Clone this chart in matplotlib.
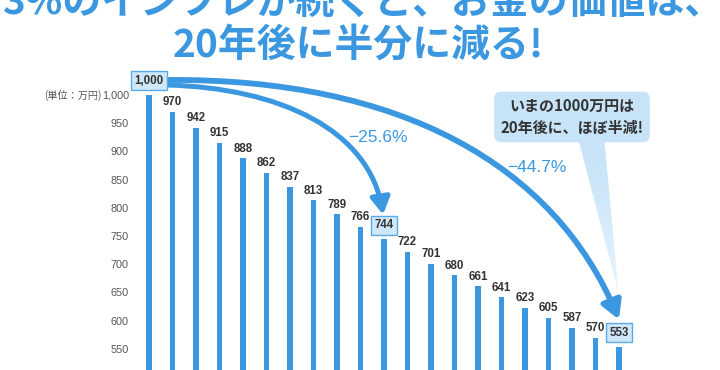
import matplotlib
matplotlib.use("Agg")
import matplotlib.pyplot as plt
import matplotlib.colors as mcolors
from matplotlib.patches import FancyArrowPatch, Polygon
from matplotlib.path import Path
import numpy as np

plt.rcParams['font.family'] = ['Liberation Sans', 'Noto Sans CJK JP']

# data
years = list(range(21))
values = [1000, 970, 942, 915, 888, 862, 837, 813, 789, 766, 744,
          722, 701, 680, 661, 641, 623, 605, 587, 570, 553]
highlight = [0, 10, 20]
y_ticks = list(range(550, 1001, 50))
y_tick_labels = ["1,000" if t == 1000 else str(t) for t in y_ticks]
title_lines = ["3%のインフレが続くと、お金の価値は、", "20年後に半分に減る!"]
unit_label = "(単位：万円)"
bubble_text = "いまの1000万円は\n20年後に、ほぼ半減!"
drop_10 = "−25.6%"
drop_20 = "−44.7%"

blue = '#3b98e0'
box_fc = '#cfe7f8'
bubble_fc = '#c6e3f7'
dark = '#333333'

fig = plt.figure(figsize=(7.2, 3.7), dpi=100)
ax = fig.add_axes([138 / 720, 0, 562 / 720, 308 / 370])

ax.bar(years, values, width=0.22, color=blue, zorder=2)
ax.set_xlim(-0.468, 23.45)
ax.set_ylim(512.4, 1058.5)

for s in ax.spines.values():
    s.set_visible(False)
ax.set_xticks([])
ax.set_yticks(y_ticks)
ax.set_yticklabels(y_tick_labels)
ax.tick_params(axis='y', length=0, pad=6.5, labelsize=7.8, labelcolor='#555555')

ax.annotate(unit_label, xy=(0, 1000), xycoords=('axes fraction', 'data'),
            xytext=(-26, 0), textcoords='offset points', ha='right', va='center',
            fontsize=7.3, color='#555555', family=['Noto Sans CJK JP'],
            annotation_clip=False)

# value labels
for x, v in zip(years, values):
    if x in highlight:
        ax.annotate(f"{v:,}", xy=(x, v), xytext=(0, 6), textcoords='offset points',
                    ha='center', va='bottom', fontsize=8.3, fontweight='bold', color=dark,
                    bbox=dict(boxstyle='square,pad=0.3', fc=box_fc, ec='#5aaae6', lw=1),
                    zorder=5)
    else:
        ax.annotate(f"{v}", xy=(x, v), xytext=(0, 2.5), textcoords='offset points',
                    ha='center', va='bottom', fontsize=8.3, fontweight='bold', color=dark)

# curved arrows (bezier control points in index / value space)
codes = [Path.MOVETO, Path.CURVE4, Path.CURVE4, Path.CURVE4]
outer = Path([(0.77, 1026.6), (10.68, 1030.0), (17.28, 875.9), (20.0, 602.0)], codes)
inner = Path([(0.77, 1017.7), (5.57, 1012.4), (9.4, 938.0), (9.96, 788.0)], codes)
ax.add_patch(FancyArrowPatch(path=outer, arrowstyle='-|>,head_length=10.5,head_width=6',
                             mutation_scale=1, lw=4.2, color=blue, zorder=4))
ax.add_patch(FancyArrowPatch(path=inner, arrowstyle='-|>,head_length=10,head_width=5.8',
                             mutation_scale=1, lw=3.6, color=blue, zorder=4))

ax.text(9.74, 923.8, drop_10, ha='center', va='center', fontsize=12.5, color=blue)
ax.text(16.5, 872.0, drop_20, ha='center', va='center', fontsize=12.5, color=blue)

# speech bubble tail with fade
c_top = np.array(mcolors.to_rgb(bubble_fc))
c_tip = np.array(mcolors.to_rgb('#eaf5fd'))
left0, right0, tip = (18.26, 925.0), (19.36, 925.0), (19.96, 654.3)
n = 30
for k in range(n):
    t0, t1 = k / n, (k + 1) / n
    def edge(p, t):
        return (p[0] + (tip[0] - p[0]) * t, p[1] + (tip[1] - p[1]) * t)
    quad = [edge(left0, t0), edge(right0, t0), edge(right0, t1), edge(left0, t1)]
    col = c_top + (c_tip - c_top) * t0 ** 1.5
    ax.add_patch(Polygon(quad, closed=True, fc=col, ec=col, lw=0.3, zorder=3))

ax.text(18.0, 961.0, bubble_text, ha='center', va='center', fontsize=10.8,
        fontweight='bold', color=dark, linespacing=1.45, family=['Noto Sans CJK JP'],
        bbox=dict(boxstyle='round,pad=0.42,rounding_size=0.5', fc=bubble_fc, ec='none'),
        zorder=3)

# title (first line cut by the top edge, as in the source image)
fig.text(363 / 720, 1 - 2 / 370, title_lines[0], ha='center', va='center', fontsize=28,
         fontweight='bold', color=blue, family=['Noto Sans CJK JP'])
fig.text(358 / 720, 1 - 45 / 370, title_lines[1], ha='center', va='center', fontsize=28,
         fontweight='bold', color=blue, family=['Noto Sans CJK JP'])

fig.savefig("out.png", dpi=100, facecolor='white')
